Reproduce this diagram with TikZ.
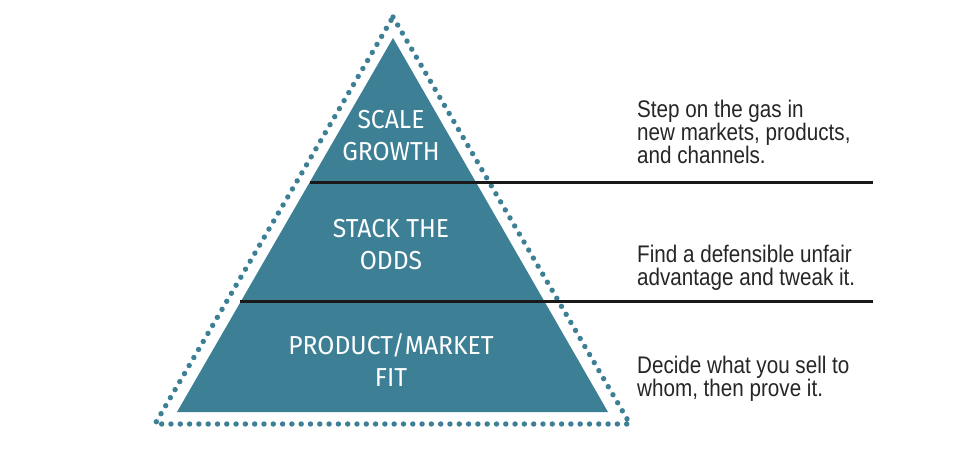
\documentclass[tikz,border=0pt]{standalone}
\usepackage{fontspec}
\newfontfamily\pyrfont[FakeStretch=0.95]{Fira Sans}
\newfontfamily\notefont[FakeStretch=0.86]{Liberation Sans}
\definecolor{pyrteal}{HTML}{3D8096}
\definecolor{notegray}{HTML}{262626}
\tikzset{
  pyrlabel/.style={anchor=north, inner sep=0pt, align=center, text=white,
    font=\pyrfont\fontsize{26}{32}\selectfont},
  notelabel/.style={anchor=north west, inner sep=0pt, align=left, text=notegray,
    font=\notefont\fontsize{24}{23}\selectfont},
  rule/.style={line width=3pt, draw=black!90},
  dots/.style={draw=pyrteal, line width=5.4pt, dash pattern=on 0pt off 9.3pt, line cap=round}
}
\begin{document}
\begin{tikzpicture}[x=1pt,y=-1pt]
\useasboundingbox[fill=white] (0,0) rectangle (978,450);
% inner pyramid
\coordinate (ia) at (393,38);
\coordinate (ir) at (608,412);
\coordinate (il) at (177,412);
\fill[pyrteal] (ia) -- (ir) -- (il) -- cycle;
% dotted outline
\coordinate (oa) at (393,17);
\coordinate (or) at (630,424);
\coordinate (ol) at (155,424);
\draw[dots] (oa) -- (or) -- (ol) -- cycle;
% rules
\coordinate (r1s) at (310,182);
\coordinate (r1e) at (873,182);
\coordinate (r2s) at (240,301);
\coordinate (r2e) at (873,301);
\draw[rule] (r1s) -- (r1e);
\draw[rule] (r2s) -- (r2e);
% pyramid labels
\node[pyrlabel] (scale) at (391,110) {SCALE\\GROWTH};
\node[pyrlabel] (stack) at (391,219) {STACK THE\\ODDS};
\node[pyrlabel] (pmf) at (391,333.5) {PRODUCT/MARKET\\FIT};
% notes
\node[notelabel] (n1) at (637,99.5) {Step on the gas in\\new markets, products,\\and channels.};
\node[notelabel] (n2) at (637,244.5) {Find a defensible unfair\\advantage and tweak it.};
\node[notelabel] (n3) at (637,355.5) {Decide what you sell to\\whom, then prove it.};
\end{tikzpicture}
\end{document}
